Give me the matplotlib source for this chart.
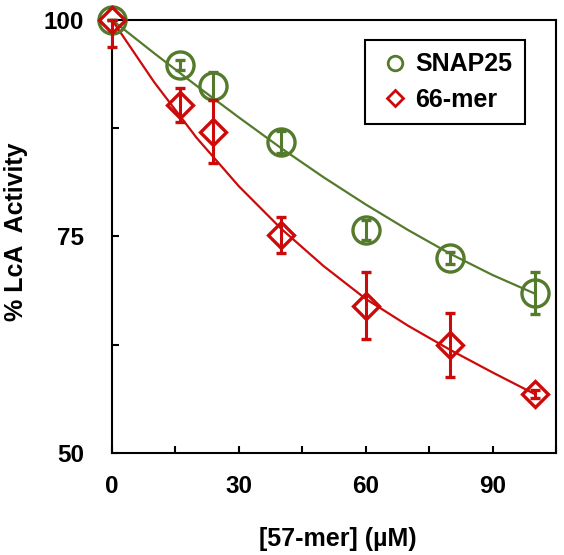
import matplotlib
matplotlib.use("Agg")
import matplotlib.pyplot as plt
from matplotlib.lines import Line2D
from matplotlib.ticker import MultipleLocator

plt.rcParams['font.family'] = ['Liberation Sans', 'DejaVu Sans']
plt.rcParams['font.weight'] = 'bold'

# Data
conc = [0, 16, 24, 40, 60, 80, 100]
snap25 = [100, 94.8, 92.4, 85.9, 75.8, 72.5, 68.5]
snap25_err = [0, 0.6, 1.6, 1.25, 1.15, 0.7, 2.4]
mer66 = [100, 90.2, 87.1, 75.2, 67.0, 62.5, 56.8]
mer66_err_low = [3.1, 2.0, 3.65, 2.05, 3.85, 3.7, 0.5]
mer66_err_high = [0, 2.0, 3.65, 2.05, 3.85, 3.7, 0.5]

# Fit curves
fit_x = [0, 10, 20, 30, 40, 50, 60, 70, 80, 90, 100]
snap25_fit = [100, 96.15, 92.4, 88.75, 85.2, 81.85, 78.7, 75.75, 73.0, 70.55, 68.4]
mer66_fit = [100, 92.8, 86.4, 80.8, 75.9, 71.6, 67.8, 64.7, 61.9, 59.3, 56.8]

xticks = [0, 30, 60, 90]
yticks = [50, 75, 100]

green = '#547a2c'
red = '#cc0a0a'

fig = plt.figure(figsize=(5.64, 5.55), dpi=100)
ax = fig.add_axes([0.1986, 0.1838, 0.7872, 0.7802])

ax.plot(fit_x, snap25_fit, color=green, lw=1.6, zorder=2)
ax.plot(fit_x, mer66_fit, color=red, lw=1.6, zorder=2)

eb1 = ax.errorbar(conc, snap25, yerr=snap25_err, fmt='o', ms=19.5, mfc='none',
                  mec=green, mew=2.4, ecolor=green, elinewidth=2.2, capsize=3.5,
                  capthick=2.2, zorder=3, clip_on=False)
eb2 = ax.errorbar(conc, mer66, yerr=[mer66_err_low, mer66_err_high], fmt='D', ms=13.5,
                  mfc='none', mec=red, mew=2.4, ecolor=red, elinewidth=2.2,
                  capsize=3.5, capthick=2.2, zorder=4, clip_on=False)
for eb in (eb1, eb2):
    for art in list(eb.lines[1]) + list(eb.lines[2]):
        art.set_clip_on(False)

ax.set_xlim(0, 105)
ax.set_ylim(50, 100)
ax.set_xticks(xticks)
ax.set_yticks(yticks)
ax.xaxis.set_minor_locator(MultipleLocator(15))
ax.yaxis.set_minor_locator(MultipleLocator(12.5))
ax.tick_params(which='both', direction='in', length=5, width=1.5,
               top=False, right=False)
ax.tick_params(axis='x', which='major', pad=16, labelsize=17.5)
ax.tick_params(axis='y', which='major', pad=20, labelsize=17.5)
for lab in ax.get_xticklabels() + ax.get_yticklabels():
    lab.set_fontweight('bold')
for s in ax.spines.values():
    s.set_linewidth(1.5)

ax.set_xlabel('[57-mer] (\u00b5M)', fontsize=18, fontweight='bold')
ax.set_ylabel('% LcA  Activity', fontsize=18, fontweight='bold')
ax.xaxis.set_label_coords(0.508, -0.172)
ax.yaxis.set_label_coords(-0.189, 0.51)

handles = [Line2D([], [], marker='o', ls='none', ms=10.5, mfc='none', mec=green, mew=2.0),
           Line2D([], [], marker='D', ls='none', ms=8.5, mfc='none', mec=red, mew=2.0)]
leg = ax.legend(handles, ['SNAP25', '66-mer'], loc='upper right',
                bbox_to_anchor=(0.930, 0.954), borderaxespad=0, fancybox=False,
                framealpha=1, edgecolor='black', handlelength=1.4, handletextpad=0.1,
                prop={'size': 18, 'weight': 'bold'}, borderpad=0.5,
                labelspacing=0.45)
leg.get_frame().set_linewidth(1.5)

fig.savefig('out.png', dpi=100)
